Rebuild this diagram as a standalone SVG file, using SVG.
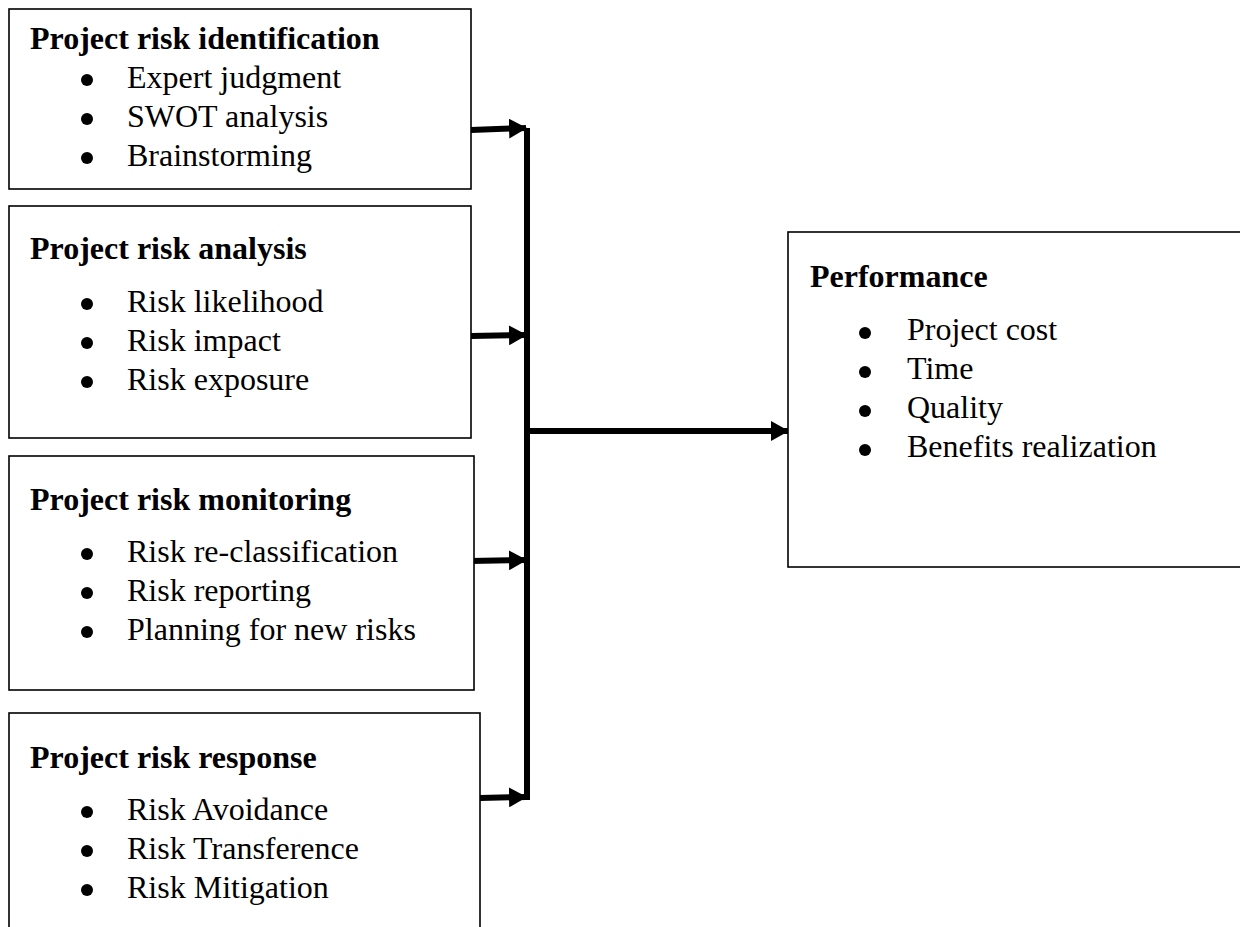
<svg xmlns="http://www.w3.org/2000/svg" width="1240" height="927" viewBox="0 0 1240 927">
<style>
.box{fill:#fff;stroke:#000;stroke-width:1.6}
.hd{font-family:"Liberation Serif","Times New Roman",serif;font-weight:bold;font-size:32px;fill:#000}
.it{font-family:"Liberation Serif","Times New Roman",serif;font-size:32px;fill:#000}
.bl{fill:#000}
.cn{stroke:#000;stroke-width:6;fill:none}
</style>
<defs>
<marker id="ah" markerUnits="userSpaceOnUse" markerWidth="18" markerHeight="20" refX="17" refY="10" orient="auto">
<path d="M0,0 L18,10 L0,20 z" fill="#000"/>
</marker>
</defs>
<rect width="1240" height="927" fill="#fff"/>
<g id="connectors">
<line class="cn" x1="527" y1="128" x2="527" y2="800"/>
<line class="cn" x1="471" y1="130" x2="526" y2="128" marker-end="url(#ah)"/>
<line class="cn" x1="471" y1="336" x2="526" y2="335" marker-end="url(#ah)"/>
<line class="cn" x1="470" y1="561" x2="526" y2="560" marker-end="url(#ah)"/>
<line class="cn" x1="480" y1="798" x2="526" y2="797" marker-end="url(#ah)"/>
<line class="cn" x1="530" y1="431" x2="788" y2="431" marker-end="url(#ah)"/>
</g>
<g id="identification">
<rect class="box" x="9" y="9" width="462" height="180"/>
<text class="hd" x="30" y="49">Project risk identification</text>
<circle class="bl" cx="87" cy="80" r="6"/><text class="it" x="127" y="88">Expert judgment</text>
<circle class="bl" cx="87" cy="119" r="6"/><text class="it" x="127" y="127">SWOT analysis</text>
<circle class="bl" cx="87" cy="158" r="6"/><text class="it" x="127" y="166">Brainstorming</text>
</g>
<g id="analysis">
<rect class="box" x="9" y="206" width="462" height="232"/>
<text class="hd" x="30" y="259">Project risk analysis</text>
<circle class="bl" cx="87" cy="304" r="6"/><text class="it" x="127" y="312">Risk likelihood</text>
<circle class="bl" cx="87" cy="343" r="6"/><text class="it" x="127" y="351">Risk impact</text>
<circle class="bl" cx="87" cy="382" r="6"/><text class="it" x="127" y="390">Risk exposure</text>
</g>
<g id="monitoring">
<rect class="box" x="9" y="456" width="465" height="234"/>
<text class="hd" x="30" y="510">Project risk monitoring</text>
<circle class="bl" cx="87" cy="554" r="6"/><text class="it" x="127" y="562">Risk re-classification</text>
<circle class="bl" cx="87" cy="593" r="6"/><text class="it" x="127" y="601">Risk reporting</text>
<circle class="bl" cx="87" cy="632" r="6"/><text class="it" x="127" y="640">Planning for new risks</text>
</g>
<g id="response">
<rect class="box" x="9" y="713" width="471" height="240"/>
<text class="hd" x="30" y="768">Project risk response</text>
<circle class="bl" cx="87" cy="812" r="6"/><text class="it" x="127" y="820">Risk Avoidance</text>
<circle class="bl" cx="87" cy="851" r="6"/><text class="it" x="127" y="859">Risk Transference</text>
<circle class="bl" cx="87" cy="890" r="6"/><text class="it" x="127" y="898">Risk Mitigation</text>
</g>
<g id="performance">
<rect class="box" x="788" y="232" width="470" height="335"/>
<text class="hd" x="810" y="287">Performance</text>
<circle class="bl" cx="865" cy="333" r="6"/><text class="it" x="907" y="340">Project cost</text>
<circle class="bl" cx="865" cy="372" r="6"/><text class="it" x="907" y="379">Time</text>
<circle class="bl" cx="865" cy="411" r="6"/><text class="it" x="907" y="418">Quality</text>
<circle class="bl" cx="865" cy="450" r="6"/><text class="it" x="907" y="457">Benefits realization</text>
</g>
</svg>
